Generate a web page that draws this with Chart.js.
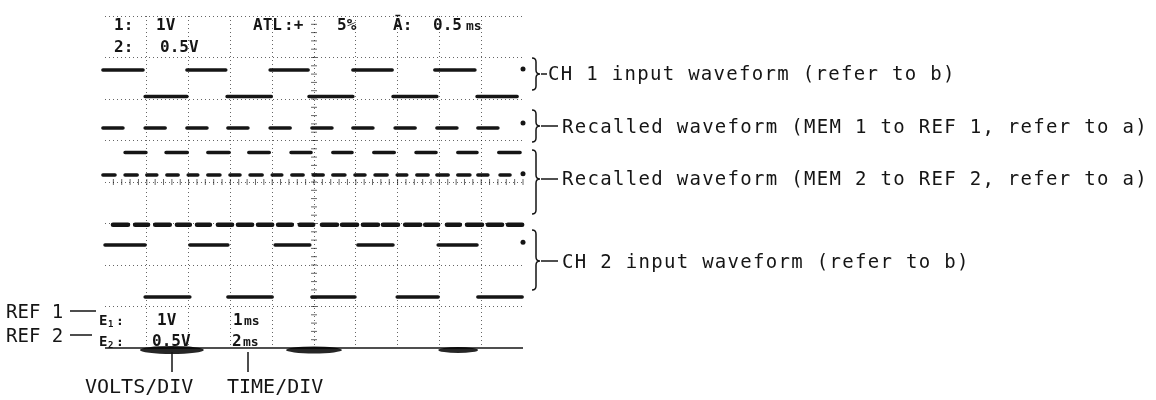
<!DOCTYPE html>
<html>
<head>
<meta charset="utf-8">
<script src="https://cdn.jsdelivr.net/npm/chart.js@4"></script>
<style>
  body { margin: 0; background: #fff; }
</style>
</head>
<body>
<canvas id="scope" width="1156" height="400"></canvas>
<script>
// Scope screen: 10 x 8 divisions, every value below is in divisions
// Segments are [start, end] of each drawn piece of a trace

// CH 1 input waveform
const ch1High = 6.70;
const ch1Low = 6.06;
const ch1HighSegs = [[-0.05, 0.91], [1.96, 2.89], [3.95, 4.86], [5.93, 6.87], [7.89, 8.85]];
const ch1LowSegs = [[0.96, 1.96], [2.92, 3.98], [4.88, 5.93], [6.89, 7.94], [8.90, 9.86]];

// Recalled waveform, MEM 1 to REF 1
const ref1High = 5.30;
const ref1Low = 4.71;
const ref1HighSegs = [[-0.05, 0.43], [0.96, 1.44], [1.96, 2.44], [2.94, 3.42], [3.95, 4.43],
  [4.95, 5.43], [5.93, 6.41], [6.94, 7.42], [7.94, 8.42], [8.92, 9.40]];
const ref1LowSegs = [[0.48, 0.98], [1.46, 1.97], [2.46, 2.97], [3.44, 3.93], [4.45, 4.93],
  [5.45, 5.91], [6.43, 6.92], [7.44, 7.92], [8.44, 8.90], [9.42, 9.93]];

// Recalled waveform, MEM 2 to REF 2
const ref2High = 4.17;
const ref2Low = 2.97;
const ref2HighSegs = [[-0.05, 0.24], [0.48, 0.77], [1.00, 1.24], [1.48, 1.75], [1.99, 2.22],
  [2.46, 2.75], [2.99, 3.23], [3.47, 3.76], [4.00, 4.23], [4.47, 4.74],
  [4.98, 5.22], [5.45, 5.74], [5.98, 6.22], [6.46, 6.75], [6.99, 7.22],
  [7.46, 7.73], [7.94, 8.21], [8.44, 8.73], [8.92, 9.16], [9.45, 9.69]];
const ref2LowSegs = [[0.19, 0.55], [0.72, 1.03], [1.20, 1.55], [1.72, 2.03], [2.20, 2.51],
  [2.70, 3.04], [3.18, 3.52], [3.66, 4.00], [4.14, 4.47], [4.66, 4.98],
  [5.19, 5.55], [5.67, 6.03], [6.17, 6.53], [6.65, 7.01], [7.18, 7.54],
  [7.66, 7.97], [8.18, 8.49], [8.66, 9.02], [9.16, 9.50], [9.64, 9.98]];

// CH 2 input waveform
const ch2High = 2.48;
const ch2Low = 1.23;
const ch2HighSegs = [[0.00, 0.96], [2.03, 2.94], [4.07, 4.90], [6.05, 6.89], [7.97, 8.90]];
const ch2LowSegs = [[0.96, 2.03], [2.94, 4.00], [4.95, 5.98], [6.99, 7.97], [8.92, 9.98]];

// last sample dot of each trace at the right edge
const dotX = [10, 10, 10, 10];
const dotY = [6.72, 5.42, 4.20, 2.55];

const ink = "#151515";
const gridInk = "rgba(0,0,0,0.6)";

function toPoints(segs, level) {
  const pts = [];
  segs.forEach(([a, b]) => {
    pts.push({ x: a, y: level }, { x: b, y: level }, { x: b, y: null });
  });
  return pts;
}

function trace(segs, level, width) {
  return {
    data: toPoints(segs, level),
    borderColor: ink,
    borderWidth: width || 3.5,
    borderCapStyle: "round",
    pointRadius: 0,
    spanGaps: false,
    clip: false
  };
}

function brace(ctx, x, top, bottom, mid, w) {
  const xm = x + w / 2;
  const r = 4;
  ctx.beginPath();
  ctx.moveTo(x, top);
  ctx.quadraticCurveTo(xm, top, xm, top + r);
  ctx.lineTo(xm, mid - r);
  ctx.quadraticCurveTo(xm, mid, x + w, mid);
  ctx.quadraticCurveTo(xm, mid, xm, mid + r);
  ctx.lineTo(xm, bottom - r);
  ctx.quadraticCurveTo(xm, bottom, x, bottom);
  ctx.stroke();
}

// center graticule ticks, bottom line and CRT burn marks
const graticule = {
  id: "graticule",
  beforeDatasetsDraw(chart) {
    const { ctx, scales: { x, y } } = chart;
    ctx.save();
    ctx.strokeStyle = gridInk;
    ctx.lineWidth = 1;
    const cx = x.getPixelForValue(5);
    const cy = y.getPixelForValue(4);
    for (let v = 0.2; v < 8; v += 0.2) {
      const py = y.getPixelForValue(v);
      ctx.beginPath();
      ctx.moveTo(cx - 3, py);
      ctx.lineTo(cx + 3, py);
      ctx.stroke();
    }
    for (let v = 0.2; v < 10; v += 0.2) {
      const px = x.getPixelForValue(v);
      ctx.beginPath();
      ctx.moveTo(px, cy - 3);
      ctx.lineTo(px, cy + 3);
      ctx.stroke();
    }
    const by = y.getPixelForValue(0);
    ctx.strokeStyle = ink;
    ctx.lineWidth = 1.5;
    ctx.beginPath();
    ctx.moveTo(x.getPixelForValue(0), by);
    ctx.lineTo(x.getPixelForValue(10), by);
    ctx.stroke();
    ctx.fillStyle = "rgba(0,0,0,0.85)";
    [[1.6, 32, 4], [5.0, 28, 3.5], [8.45, 20, 3]].forEach(([v, rx, ry]) => {
      ctx.beginPath();
      ctx.ellipse(x.getPixelForValue(v), by + 2, rx, ry, 0, 0, Math.PI * 2);
      ctx.fill();
    });
    ctx.restore();
  }
};

// readouts and callouts
const labels = {
  id: "labels",
  afterDraw(chart) {
    const { ctx, chartArea } = chart;
    ctx.save();
    ctx.fillStyle = ink;
    ctx.strokeStyle = ink;
    ctx.textBaseline = "alphabetic";

    // screen readout, top
    ctx.font = 'bold 16px "DejaVu Sans Mono"';
    ctx.fillText("1:", 114, 30);
    ctx.fillText("1V", 156, 30);
    ctx.fillText("2:", 114, 52);
    ctx.fillText("0.5V", 160, 52);
    ctx.fillText("ATL", 253, 30);
    ctx.fillText(":+", 284, 30);
    ctx.fillText("5%", 337, 30);
    ctx.fillText("\u0100:", 393, 30);
    ctx.fillText("0.5", 433, 30);
    ctx.font = 'bold 13px "DejaVu Sans Mono"';
    ctx.fillText("ms", 466, 30);

    // screen readout, bottom
    ctx.font = 'bold 14px "DejaVu Sans Mono"';
    ctx.fillText("E", 99, 325);
    ctx.fillText("E", 99, 346);
    ctx.font = 'bold 9px "DejaVu Sans Mono"';
    ctx.fillText("1", 108, 327);
    ctx.fillText("2", 108, 348);
    ctx.font = 'bold 13px "DejaVu Sans Mono"';
    ctx.fillText(":", 116, 325);
    ctx.fillText(":", 116, 346);
    ctx.font = 'bold 16px "DejaVu Sans Mono"';
    ctx.fillText("1V", 157, 325);
    ctx.fillText("1", 233, 325);
    ctx.fillText("0.5V", 152, 346);
    ctx.fillText("2", 232, 346);
    ctx.font = 'bold 13px "DejaVu Sans Mono"';
    ctx.fillText("ms", 244, 325);
    ctx.fillText("ms", 243, 346);

    // left callouts
    ctx.font = '19px "DejaVu Sans Mono"';
    ctx.fillText("REF 1", 6, 318);
    ctx.fillText("REF 2", 6, 342);
    ctx.lineWidth = 1.5;
    ctx.beginPath();
    ctx.moveTo(70, 311); ctx.lineTo(96, 311);
    ctx.moveTo(70, 335); ctx.lineTo(92, 335);
    ctx.stroke();

    // bottom callouts
    ctx.beginPath();
    ctx.moveTo(172, 352); ctx.lineTo(172, 372);
    ctx.moveTo(248, 352); ctx.lineTo(248, 372);
    ctx.stroke();
    ctx.font = '20px "DejaVu Sans Mono"';
    ctx.fillText("VOLTS/DIV", 85, 393);
    ctx.fillText("TIME/DIV", 227, 393);

    // right callouts
    const bx = chartArea.right + 9;
    const notes = [
      { top: 58, bottom: 90, mid: 74, base: 80, dash: 6, tx: 548, text: "CH 1 input waveform (refer to b)" },
      { top: 110, bottom: 142, mid: 126, base: 133, dash: 17, tx: 562, text: "Recalled waveform (MEM 1 to REF 1, refer to a)" },
      { top: 150, bottom: 214, mid: 179, base: 185, dash: 17, tx: 562, text: "Recalled waveform (MEM 2 to REF 2, refer to a)" },
      { top: 230, bottom: 290, mid: 261, base: 268, dash: 17, tx: 562, text: "CH 2 input waveform (refer to b)" }
    ];
    ctx.font = '19px "DejaVu Sans Mono"';
    ctx.letterSpacing = "1.3px";
    notes.forEach((n) => {
      ctx.lineWidth = 1.5;
      brace(ctx, bx, n.top, n.bottom, n.mid, 8);
      ctx.beginPath();
      ctx.moveTo(bx + 9, n.mid);
      ctx.lineTo(bx + 9 + n.dash, n.mid);
      ctx.stroke();
      ctx.fillText(n.text, n.tx, n.base);
    });
    ctx.restore();
  }
};

const gridOpts = {
  color: (c) => (c.tick && (c.tick.value === 0 || c.tick.value === 10) ? "transparent" : gridInk),
  lineWidth: 1,
  drawTicks: false
};

new Chart(document.getElementById("scope"), {
  type: "line",
  data: {
    datasets: [
      trace(ch1HighSegs, ch1High),
      trace(ch1LowSegs, ch1Low),
      trace(ref1HighSegs, ref1High),
      trace(ref1LowSegs, ref1Low),
      trace(ref2HighSegs, ref2High),
      trace(ref2LowSegs, ref2Low, 4.5),
      trace(ch2HighSegs, ch2High),
      trace(ch2LowSegs, ch2Low),
      {
        type: "scatter",
        data: dotX.map((v, i) => ({ x: v, y: dotY[i] })),
        pointRadius: 2.5,
        pointBorderWidth: 0,
        pointBackgroundColor: ink,
        showLine: false,
        clip: false
      }
    ]
  },
  options: {
    responsive: false,
    animation: false,
    devicePixelRatio: 1,
    layout: { padding: { left: 105, right: 633, top: 16, bottom: 52 } },
    plugins: { legend: { display: false }, tooltip: { enabled: false } },
    scales: {
      x: {
        type: "linear", min: 0, max: 10,
        ticks: { stepSize: 1, display: false },
        grid: gridOpts,
        border: { display: false, dash: [1, 3] }
      },
      y: {
        type: "linear", min: 0, max: 8,
        ticks: { stepSize: 1, display: false },
        grid: gridOpts,
        border: { display: false, dash: [1, 3] }
      }
    }
  },
  plugins: [graticule, labels]
});
</script>
</body>
</html>
